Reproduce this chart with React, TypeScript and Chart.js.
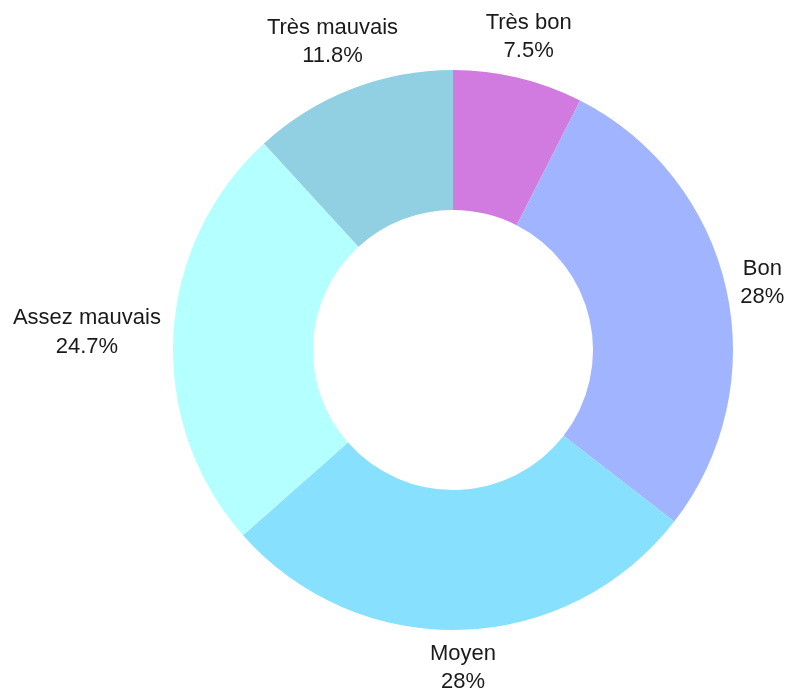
import React, { useEffect, useRef } from "react";
import { Chart, registerables } from "chart.js";

Chart.register(...registerables);

const categories = ["Très bon", "Bon", "Moyen", "Assez mauvais", "Très mauvais"];
const values = [7.5, 28, 28, 24.7, 11.8];
const colors = ["#d17ae0", "#a0b4ff", "#88e0ff", "#b4ffff", "#90d0e2"];

const FONT_SIZE = 22;
const LINE_H = 28.5;

const outsideLabels = {
  id: "outsideLabels",
  afterDatasetsDraw(chart: any) {
    const ctx = chart.ctx as CanvasRenderingContext2D;
    const meta = chart.getDatasetMeta(0);
    ctx.save();
    ctx.font = `${FONT_SIZE}px "Liberation Sans", Arial, sans-serif`;
    ctx.fillStyle = "#1a1a1a";
    ctx.textAlign = "center";
    ctx.textBaseline = "middle";
    meta.data.forEach((arc: any, i: number) => {
      const lines = [categories[i], `${values[i]}%`];
      const w = Math.max(...lines.map((l) => ctx.measureText(l).width));
      const h = lines.length * LINE_H;
      const mid = (arc.startAngle + arc.endAngle) / 2;
      const dx = Math.cos(mid);
      const dy = Math.sin(mid);
      const extLin = Math.abs(dx) * (w / 2) + Math.abs(dy) * (h / 2);
      const extSq = dx * dx * (w / 2) + dy * dy * (h / 2);
      const ext = (extLin + extSq) / 2;
      const gap = 10 + 2 * Math.abs(dx) - 3 * Math.max(0, dy);
      const r = arc.outerRadius + gap + ext;
      const cx = arc.x + dx * r;
      const cy = arc.y + dy * r + 2;
      lines.forEach((l, j) => {
        ctx.fillText(l, cx, cy + (j - (lines.length - 1) / 2) * LINE_H);
      });
    });
    ctx.restore();
  },
};

export default function App() {
  const ref = useRef<HTMLCanvasElement | null>(null);
  useEffect(() => {
    if (!ref.current) return;
    const chart = new Chart(ref.current, {
      type: "doughnut",
      data: {
        labels: categories,
        datasets: [
          {
            data: values,
            backgroundColor: colors,
            borderWidth: 0,
          },
        ],
      },
      options: {
        animation: false,
        responsive: true,
        maintainAspectRatio: false,
        cutout: "50%",
        layout: { padding: { left: 173, right: 54, top: 70, bottom: 61 } },
        plugins: {
          legend: { display: false },
          tooltip: { enabled: false },
        },
      },
      plugins: [outsideLabels],
    });
    return () => chart.destroy();
  }, []);
  return (
    <div style={{ position: "absolute", left: 0, top: 0, width: 787, height: 691, background: "#fff" }}>
      <canvas ref={ref} />
    </div>
  );
}
